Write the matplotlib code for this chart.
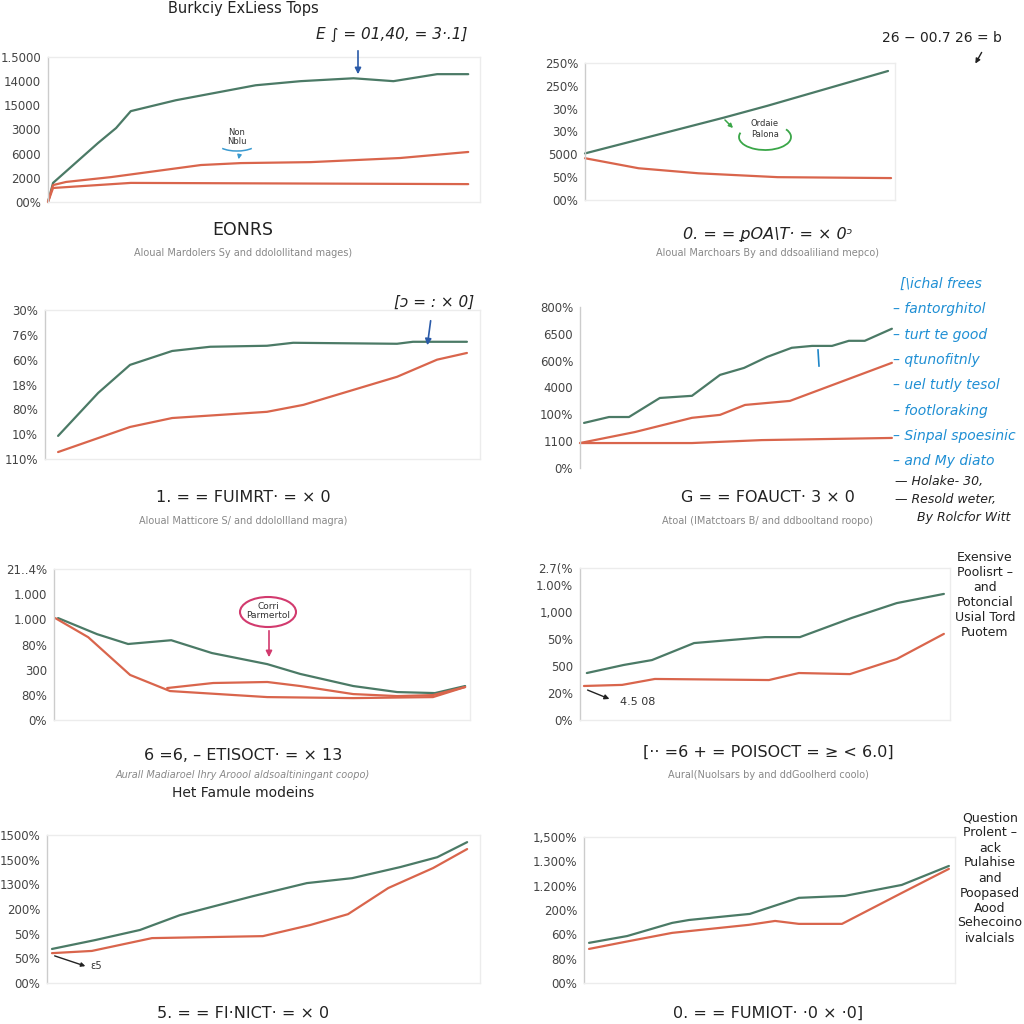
import matplotlib
matplotlib.use("Agg")
import matplotlib.pyplot as plt
from matplotlib.patches import Arc, Ellipse, FancyArrowPatch

GREEN = "#4b7a66"
ORANGE = "#d9654c"
GREY = "#444444"

# ---- panel data (x = period index, y = position on the printed tick scale) ----
p1_ticks = ["00%", "2000", "6000", "3000", "15000", "14000", "1.5000"]
p1_green_x = [0, 0.12, 1.19, 1.62, 1.97, 3.04, 4.94, 6.01, 7.27, 8.22, 9.26, 10]
p1_green_y = [0, 0.79, 2.44, 3.06, 3.76, 4.21, 4.83, 5.0, 5.12, 5.0, 5.29, 5.29]
p1_or1_x = [0, 0.12, 0.43, 1.5, 3.64, 4.59, 6.25, 8.38, 10]
p1_or1_y = [0, 0.70, 0.83, 1.03, 1.53, 1.61, 1.65, 1.82, 2.07]
p1_or2_x = [0, 0.12, 1.97, 10]
p1_or2_y = [0, 0.58, 0.79, 0.74]

p2_ticks = ["00%", "50%", "5000", "30%", "30%", "250%", "250%"]
p2_green_x = [0, 4.59, 6.03, 10]
p2_green_y = [2.04, 3.61, 4.13, 5.65]
p2_or_x = [0, 1.77, 3.74, 6.36, 10.1]
p2_or_y = [1.83, 1.39, 1.17, 1.0, 0.96]

p3_ticks = ["110%", "10%", "80%", "18%", "60%", "76%", "30%"]
p3_green_x = [0, 0.98, 1.76, 2.79, 3.72, 5.11, 5.75, 8.29, 8.68, 10]
p3_green_y = [0.93, 2.66, 3.79, 4.35, 4.52, 4.56, 4.68, 4.64, 4.72, 4.72]
p3_or_x = [0, 1.76, 2.79, 5.11, 6.0, 8.29, 9.27, 10]
p3_or_y = [0.28, 1.29, 1.65, 1.90, 2.18, 3.31, 4.0, 4.27]

p4_ticks = ["0%", "1100", "100%", "4000", "600%", "6500", "800%"]
p4_green_x = [0.13, 0.93, 1.57, 2.56, 3.59, 4.49, 5.26, 6.0, 6.79, 7.44, 8.08, 8.62, 9.13, 10]
p4_green_y = [1.68, 1.90, 1.90, 2.61, 2.69, 3.47, 3.73, 4.14, 4.48, 4.55, 4.55, 4.74, 4.74, 5.19]
p4_or1_x = [0, 1.76, 3.59, 4.49, 5.29, 6.73, 10]
p4_or1_y = [0.93, 1.34, 1.87, 1.98, 2.35, 2.50, 3.92]
p4_or2_x = [0, 3.59, 5.83, 10]
p4_or2_y = [0.93, 0.93, 1.04, 1.12]

p5_ticks = ["0%", "80%", "300", "80%", "1.000", "1.000", "21..4%"]
p5_green_x = [0, 0.96, 1.72, 2.78, 3.78, 5.14, 5.95, 7.25, 8.33, 9.26, 10]
p5_green_y = [4.05, 3.41, 3.02, 3.17, 2.66, 2.22, 1.83, 1.35, 1.11, 1.07, 1.35]
p5_or1_x = [-0.07, 0.74, 1.77, 2.75, 5.14, 7.25, 9.21, 10]
p5_or1_y = [4.05, 3.29, 1.79, 1.15, 0.91, 0.87, 0.91, 1.31]
p5_or2_x = [2.68, 3.81, 5.14, 5.95, 7.25, 8.33, 9.21, 10]
p5_or2_y = [1.27, 1.47, 1.51, 1.35, 1.03, 0.95, 0.99, 1.31]

p6_ticks = ["0%", "20%", "500", "50%", "1,000", "1.00%", "2.7(%"]
p6_tick_pos = [0, 1, 2, 3, 4, 5, 5.63]
p6_green_x = [0.08, 1.11, 1.89, 3.06, 5.03, 6.0, 7.44, 8.69, 10]
p6_green_y = [1.74, 2.04, 2.22, 2.85, 3.07, 3.07, 3.78, 4.33, 4.67]
p6_or_x = [0, 1.06, 1.97, 5.14, 5.97, 7.39, 8.69, 10]
p6_or_y = [1.26, 1.30, 1.52, 1.48, 1.74, 1.70, 2.26, 3.19]

p7_ticks = ["00%", "50%", "50%", "200%", "1300%", "1500%", "1500%"]
p7_green_x = [0, 1.04, 2.12, 3.08, 4.84, 6.14, 7.23, 8.39, 9.28, 10]
p7_green_y = [1.38, 1.74, 2.15, 2.75, 3.52, 4.05, 4.25, 4.70, 5.10, 5.71]
p7_or_x = [0, 0.96, 2.41, 5.08, 6.22, 7.13, 8.10, 9.18, 10]
p7_or_y = [1.21, 1.30, 1.82, 1.90, 2.35, 2.79, 3.85, 4.66, 5.43]

p8_ticks = ["00%", "80%", "60%", "200%", "1.200%", "1.300%", "1,500%"]
p8_green_x = [0, 1.06, 2.31, 2.78, 4.47, 5.83, 7.11, 8.69, 10]
p8_green_y = [1.65, 1.93, 2.47, 2.59, 2.84, 3.50, 3.58, 4.03, 4.81]
p8_or_x = [0, 1.0, 2.31, 4.44, 5.17, 5.83, 7.03, 8.69, 10]
p8_or_y = [1.40, 1.69, 2.06, 2.39, 2.55, 2.43, 2.43, 3.70, 4.69]

hand_lines = ["[\\ichal frees", "– fantorghitol", "– turt te good", "– qtunofitnly",
              "– uel tutly tesol", "– footloraking", "– Sinpal spoesinic", "– and My diato"]
side6 = "Exensive\nPoolisrt –\nand\nPotoncial\nUsial Tord\nPuotem"
side8 = "Question\nProlent –\nack\nPulahise\nand\nPoopased\nAood\nSehecoino\nivalcials"

fig = plt.figure(figsize=(10.24, 10.24), dpi=100)
fig.patch.set_facecolor("white")


def fx(px):
    return px / 1024


def fy(py):
    return 1 - py / 1024


def panel(l, t, r, b, xlim, ticks, tick_pos=None, ymax=6, frame=True):
    ax = fig.add_axes([fx(l), fy(b), fx(r) - fx(l), fy(t) - fy(b)])
    ax.set_xlim(*xlim)
    ax.set_ylim(0, ymax)
    ax.set_xticks([])
    ax.set_yticks(tick_pos if tick_pos is not None else list(range(len(ticks))))
    ax.set_yticklabels(ticks, fontsize=8.5, color=GREY)
    ax.tick_params(axis="y", length=0, pad=5)
    for name, sp in ax.spines.items():
        sp.set_color("#cccccc" if name == "left" else "#ececec")
        sp.set_linewidth(1.0)
        if not frame and name != "left":
            sp.set_visible(False)
    return ax


def arrow(x0, y0, x1, y1, color, lw=1.2, ms=9):
    fig.add_artist(FancyArrowPatch((fx(x0), fy(y0)), (fx(x1), fy(y1)),
                                   transform=fig.transFigure, arrowstyle="-|>",
                                   mutation_scale=ms, color=color, lw=lw))


def ftext(x, y, s, **kw):
    kw.setdefault("ha", "center")
    kw.setdefault("va", "center")
    fig.text(fx(x), fy(y), s, **kw)


def lines(ax, *series):
    for xs, ys, c in series:
        ax.plot(xs, ys, color=c, lw=1.6, clip_on=False, solid_capstyle="round")


# panel 1
ax1 = panel(48, 57, 480, 202, (0, 10.28), p1_ticks)
lines(ax1, (p1_green_x, p1_green_y, GREEN), (p1_or1_x, p1_or1_y, ORANGE), (p1_or2_x, p1_or2_y, ORANGE))
ftext(243, 9, "Burkciy ExLiess Tops", fontsize=10.5, color="#222222")
ftext(392, 34, "E ∫ = 01,40, = 3·.1]", fontsize=11, style="italic", color="#222222")
arrow(358, 48, 358, 77, "#2a5aa8")
ftext(237, 137, "Non\nNblu", fontsize=6, color="#333333", linespacing=1.1)
fig.add_artist(Arc((fx(237), fy(143)), fx(40), 16 / 1024, theta1=200, theta2=340,
                   transform=fig.transFigure, color="#3a9ad0", lw=1.1))
arrow(240, 152, 238, 162, "#3a9ad0", lw=1.0, ms=6)
ftext(243, 230, "EONRS", fontsize=12.5, color="#222222")
ftext(243, 253, "Aloual Mardolers Sy and ddolollitand mages)", fontsize=7, color="#888888")

# panel 2
ax2 = panel(585, 63, 895, 200, (0, 10.23), p2_ticks)
lines(ax2, (p2_green_x, p2_green_y, GREEN), (p2_or_x, p2_or_y, ORANGE))
ftext(942, 38, "26 − 00.7 26 = b", fontsize=10, color="#222222")
arrow(983, 50, 974, 66, "#222222", lw=1.0, ms=7)
ftext(765, 129, "Ordaie\nPalona", fontsize=6, color="#333333", linespacing=1.3)
fig.add_artist(Arc((fx(765), fy(137)), fx(52), 26 / 1024, theta1=170, theta2=20,
                   transform=fig.transFigure, color="#3aa648", lw=1.3))
arrow(723, 118, 735, 130, "#3aa648", lw=1.1, ms=6)
ftext(768, 235, "0. = = ꝑOA\\T· = × 0ᵓ", fontsize=11.5, style="italic", color="#222222")
ftext(768, 253, "Aloual Marchoars By and ddsoaliliand mepco)", fontsize=7, color="#888888")

# panel 3
ax3 = panel(45, 310, 480, 459, (-0.32, 10.32), p3_ticks)
lines(ax3, (p3_green_x, p3_green_y, GREEN), (p3_or_x, p3_or_y, ORANGE))
ftext(434, 302, "[ɔ = : × 0]", fontsize=11, style="italic", color="#222222")
arrow(431, 318, 427, 348, "#2a5aa8")
ftext(243, 498, "1. = = FUIMRT· = × 0", fontsize=11.5, color="#222222")
ftext(243, 521, "Aloual Matticore S/ and ddolollland magra)", fontsize=7, color="#888888")

# panel 4
ax4 = panel(580, 307, 900, 468, (0, 10.26), p4_ticks, frame=False)
lines(ax4, (p4_green_x, p4_green_y, GREEN), (p4_or1_x, p4_or1_y, ORANGE), (p4_or2_x, p4_or2_y, ORANGE))
fig.add_artist(plt.Line2D([fx(818), fx(819)], [fy(350), fy(366)], transform=fig.transFigure,
                          color="#1f86c8", lw=1.2))
for i, s in enumerate(hand_lines):
    fig.text(fx(893 if i else 900), fy(284 + i * 25.3), s, fontsize=10, style="italic",
             color="#1f8fd4", ha="left", va="center")
fig.text(fx(895), fy(481), "— Holake- 30,", fontsize=9, style="italic", color="#222222",
         ha="left", va="center")
fig.text(fx(895), fy(500), "— Resold weter,", fontsize=9, style="italic", color="#222222",
         ha="left", va="center")
fig.text(fx(917), fy(518), "By Rolcfor Witt", fontsize=9, style="italic", color="#222222",
         ha="left", va="center")
ftext(768, 498, "G = = FOAUCT· 3 × 0", fontsize=11.5, color="#222222")
ftext(768, 521, "Atoal (IMatctoars B/ and ddbooltand roopo)", fontsize=7, color="#888888")

# panel 5
ax5 = panel(54, 569, 470, 720, (-0.1, 10.12), p5_ticks)
lines(ax5, (p5_green_x, p5_green_y, GREEN), (p5_or1_x, p5_or1_y, ORANGE), (p5_or2_x, p5_or2_y, ORANGE))
fig.add_artist(Ellipse((fx(268), fy(612)), fx(56), 30 / 1024, transform=fig.transFigure,
                       fill=False, edgecolor="#d23a6e", lw=1.5))
ftext(268, 611, "Corri\nParmertol", fontsize=6.5, color="#333333", linespacing=1.0)
arrow(269, 628, 269, 660, "#d23a6e")
ftext(243, 755, "6 =6, – ETISOCT· = × 13", fontsize=11.5, color="#222222")
ftext(243, 775, "Aurall Madiaroel Ihry Aroool aldsoaltiningant coopo)", fontsize=7,
      style="italic", color="#888888")
ftext(243, 793, "Het Famule modeins", fontsize=10, color="#222222", weight="medium")

# panel 6
ax6 = panel(580, 568, 950, 720, (-0.11, 10.17), p6_ticks, tick_pos=p6_tick_pos, ymax=5.63)
lines(ax6, (p6_green_x, p6_green_y, GREEN), (p6_or_x, p6_or_y, ORANGE))
arrow(585, 689, 612, 700, "#222222", lw=1.0, ms=7)
fig.text(fx(620), fy(702), "4.5 08", fontsize=8, color="#333333", ha="left", va="center")
ftext(985, 595, side6, fontsize=9, color="#222222", linespacing=1.2)
ftext(768, 752, "[·· =6 + = POISOCT = ≥ < 6.0]", fontsize=11.5, color="#222222")
ftext(768, 775, "Aural(Nuolsars by and ddGoolherd coolo)", fontsize=7, color="#888888")

# panel 7
ax7 = panel(47, 835, 480, 983, (-0.12, 10.31), p7_ticks)
lines(ax7, (p7_green_x, p7_green_y, GREEN), (p7_or_x, p7_or_y, ORANGE))
arrow(52, 955, 88, 967, "#222222", lw=1.0, ms=6)
fig.text(fx(90), fy(966), "ɛ5", fontsize=7, color="#333333", ha="left", va="center")
ftext(243, 1013, "5. = = FI·NICT· = × 0", fontsize=11.5, color="#222222")

# panel 8
ax8 = panel(584, 837, 955, 983, (-0.14, 10.17), p8_ticks)
lines(ax8, (p8_green_x, p8_green_y, GREEN), (p8_or_x, p8_or_y, ORANGE))
ftext(990, 878, side8, fontsize=9, color="#222222", linespacing=1.2)
ftext(768, 1013, "0. = = FUMIOT· ·0 × ·0]", fontsize=11.5, color="#222222")

fig.savefig("out.png", dpi=100, facecolor="white")
